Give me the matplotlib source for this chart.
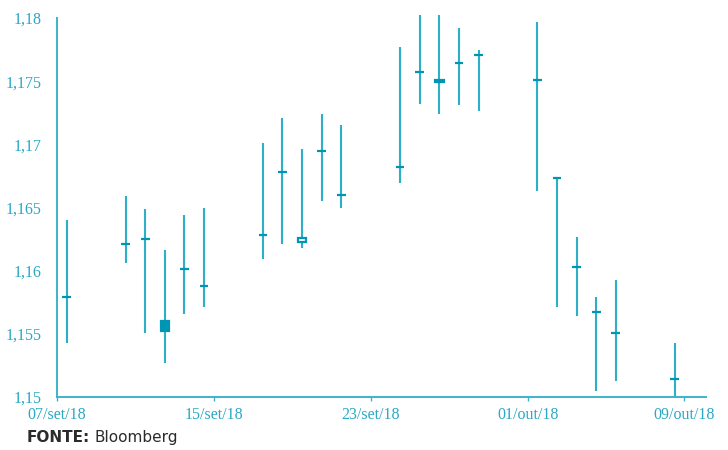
import matplotlib
matplotlib.use('Agg')
import matplotlib.pyplot as plt
import matplotlib.dates as mdates
import numpy as np
import datetime as dt

# pregões (dia útil), máxima, mínima, abertura, fechamento
dates = ['2018-09-07', '2018-09-10', '2018-09-11', '2018-09-12', '2018-09-13', '2018-09-14',
         '2018-09-17', '2018-09-18', '2018-09-19', '2018-09-20', '2018-09-21',
         '2018-09-24', '2018-09-25', '2018-09-26', '2018-09-27', '2018-09-28',
         '2018-10-01', '2018-10-02', '2018-10-03', '2018-10-04', '2018-10-05', '2018-10-08']
high = [1.1640, 1.1659, 1.1649, 1.1616, 1.1644, 1.1650,
        1.1701, 1.1721, 1.1696, 1.1724, 1.1715,
        1.1777, 1.1802, 1.1802, 1.1792, 1.1775,
        1.1797, 1.1673, 1.1627, 1.1579, 1.1593, 1.1543]
low = [1.1543, 1.1606, 1.1551, 1.1527, 1.1566, 1.1571,
       1.1609, 1.1621, 1.1618, 1.1655, 1.1650,
       1.1669, 1.1732, 1.1724, 1.1731, 1.1726,
       1.1663, 1.1571, 1.1564, 1.1505, 1.1513, 1.1500]
open_ = [1.1579, 1.1621, 1.1625, 1.1560, 1.1601, 1.1588,
         1.1628, 1.1678, 1.1623, 1.1695, 1.1660,
         1.1682, 1.1757, 1.1751, 1.1764, 1.1771,
         1.1751, 1.1673, 1.1603, 1.1567, 1.1551, 1.1514]
close = [1.1579, 1.1621, 1.1625, 1.1552, 1.1601, 1.1588,
         1.1628, 1.1678, 1.1626, 1.1695, 1.1660,
         1.1682, 1.1757, 1.1749, 1.1764, 1.1771,
         1.1751, 1.1673, 1.1603, 1.1567, 1.1551, 1.1514]

y_ticks = [1.15, 1.155, 1.16, 1.165, 1.17, 1.175, 1.18]
y_labels = ['1,15', '1,155', '1,16', '1,165', '1,17', '1,175', '1,18']
x_ticks = ['2018-09-07', '2018-09-15', '2018-09-23', '2018-10-01', '2018-10-09']
x_labels = ['07/set/18', '15/set/18', '23/set/18', '01/out/18', '09/out/18']

wick_col = '#2bb0c8'
body_col = '#0095b3'
axis_col = '#3ab4ca'

fig = plt.figure(figsize=(7.28, 4.5), dpi=100)
ax = fig.add_axes([57/728, 1-397/450, (706-57)/728, (397-18)/450])

x = mdates.date2num([dt.datetime.strptime(d, '%Y-%m-%d') for d in dates]) + 0.5
for xi, h, l, o, c in zip(x, high, low, open_, close):
    ax.vlines(xi, l, h, color=wick_col, linewidth=1.5, clip_on=False, zorder=2)
    fc = 'white' if c > o else body_col
    ax.bar(xi, c - o, bottom=o, width=0.44, facecolor=fc, edgecolor=body_col,
           linewidth=1.6, clip_on=False, zorder=3)

x0 = mdates.date2num(dt.datetime(2018, 9, 7))
ax.set_xlim(x0, x0 + 33.1)
ax.set_ylim(1.15, 1.18)

ax.set_yticks(y_ticks)
ax.set_yticklabels(y_labels)
ax.set_xticks(mdates.date2num([dt.datetime.strptime(d, '%Y-%m-%d') for d in x_ticks]))
ax.set_xticklabels(x_labels)

for s in ['top', 'right']:
    ax.spines[s].set_visible(False)
for s in ['left', 'bottom']:
    ax.spines[s].set_color(axis_col)
    ax.spines[s].set_linewidth(1.4)

ax.tick_params(axis='y', length=0, pad=11, labelsize=11.5, labelcolor='#2aa8c4')
ax.tick_params(axis='x', length=3, width=1, color=axis_col, pad=4,
               labelsize=11.5, labelcolor='#2aa8c4')
for lab in ax.get_xticklabels() + ax.get_yticklabels():
    lab.set_family('Liberation Serif')

fig.text(27/728, 1-442/450, 'FONTE:', fontsize=11, fontweight='bold',
         color='#2b2b2b', family='DejaVu Sans', va='baseline')
fig.text(95/728, 1-442/450, 'Bloomberg', fontsize=11,
         color='#2b2b2b', family='DejaVu Sans', va='baseline')

fig.savefig('out.png', dpi=100)
